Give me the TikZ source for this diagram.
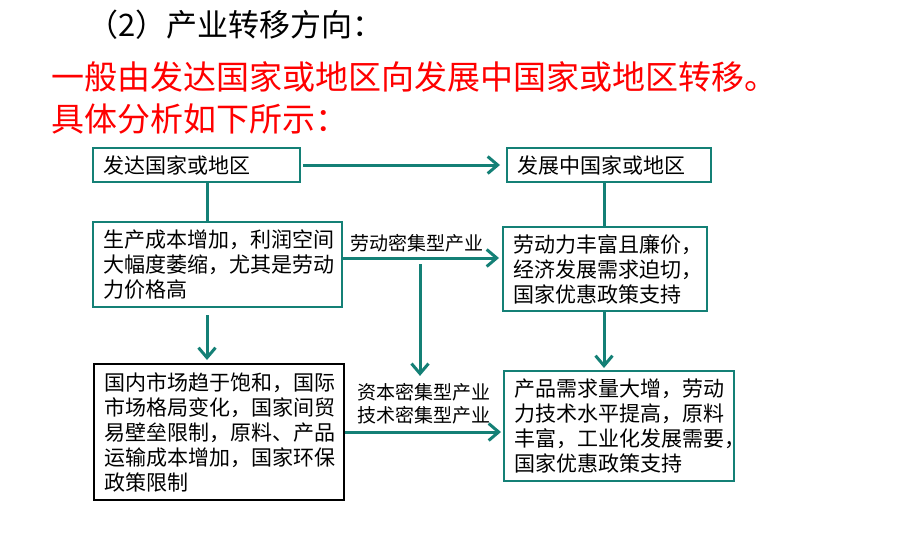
\documentclass[tikz,border=0pt]{standalone}
\usepackage{fontspec}
\setmainfont{Noto Sans CJK SC}
\usetikzlibrary{arrows.meta}
\definecolor{teal1}{RGB}{20,128,118}
\begin{document}
\begin{tikzpicture}[x=1pt,y=-1pt,
  box/.style={draw=teal1, line width=2pt, anchor=north west, inner xsep=10pt, inner ysep=0pt,
    align=left, font=\fontsize{21}{25}\selectfont},
  conn/.style={draw=teal1, line width=3pt},
  arr/.style={conn, -{Straight Barb[length=10pt,width=17pt]}},
  lab/.style={inner sep=0pt, font=\fontsize{19}{23}\selectfont, align=left},
  ttl/.style={anchor=base west, inner sep=0pt}]
\useasboundingbox (0,0) rectangle (900,541);
% titles
\node[ttl, font=\fontsize{31}{31}\selectfont] (t0) at (87,36) {（2）产业转移方向：};
\node[ttl, text=red, font=\fontsize{33}{33}\selectfont] (t1) at (51,89) {一般由发达国家或地区向发展中国家或地区转移。};
\node[ttl, text=red, font=\fontsize{33}{33}\selectfont] (t2) at (51,131) {具体分析如下所示：};
% boxes
\node[box, text width=187pt, minimum height=34pt] (b1) at (92,147) {发达国家或地区};
\node[box, text width=184pt, minimum height=34pt] (b2) at (506,147) {发展中国家或地区};
\node[box, text width=229pt, minimum height=85pt] (b3) at (92,221) {生产成本增加，利润空间\\大幅度萎缩，尤其是劳动\\力价格高};
\node[box, text width=184pt, minimum height=84pt] (b4) at (502,226) {劳动力丰富且廉价，\\经济发展需求迫切，\\国家优惠政策支持};
\node[box, draw=black, text width=230pt, minimum height=136pt] (b5) at (93,363) {国内市场趋于饱和，国际\\市场格局变化，国家间贸\\易壁垒限制，原料、产品\\运输成本增加，国家环保\\政策限制};
\node[box, text width=210pt, minimum height=110pt] (b6) at (503,370) {产品需求量大增，劳动\\力技术水平提高，原料\\丰富，工业化发展需要，\\国家优惠政策支持};
% labels
\node[lab] (l1) at (417,243) {劳动密集型产业};
\node[lab] (l2) at (424,403.5) {资本密集型产业\\技术密集型产业};
% helper coordinates
\coordinate (xl) at (207,0);
\coordinate (xr) at (604,0);
\coordinate (ya) at (0,258);
\coordinate (yb) at (0,432);
\coordinate (m1) at (420,264);
% connectors
\draw[arr, shorten <=2pt, shorten >=6pt] (b1.east) -- (b2.west);
\draw[conn] (b1.south -| xl) -- (b3.north -| xl);
\draw[conn] (b2.south -| xr) -- (b4.north -| xr);
\draw[arr, shorten >=3pt] (b3.east |- ya) -- (b4.west |- ya);
\draw[arr, shorten >=7pt] (m1) -- (l2.north -| m1);
\draw[arr, shorten <=7pt, shorten >=3pt] (b3.south -| xl) -- (b5.north -| xl);
\draw[arr, shorten >=2pt] (b5.east |- yb) -- (b6.west |- yb);
\draw[arr, shorten >=2pt] (b4.south -| xr) -- (b6.north -| xr);
\end{tikzpicture}
\end{document}
